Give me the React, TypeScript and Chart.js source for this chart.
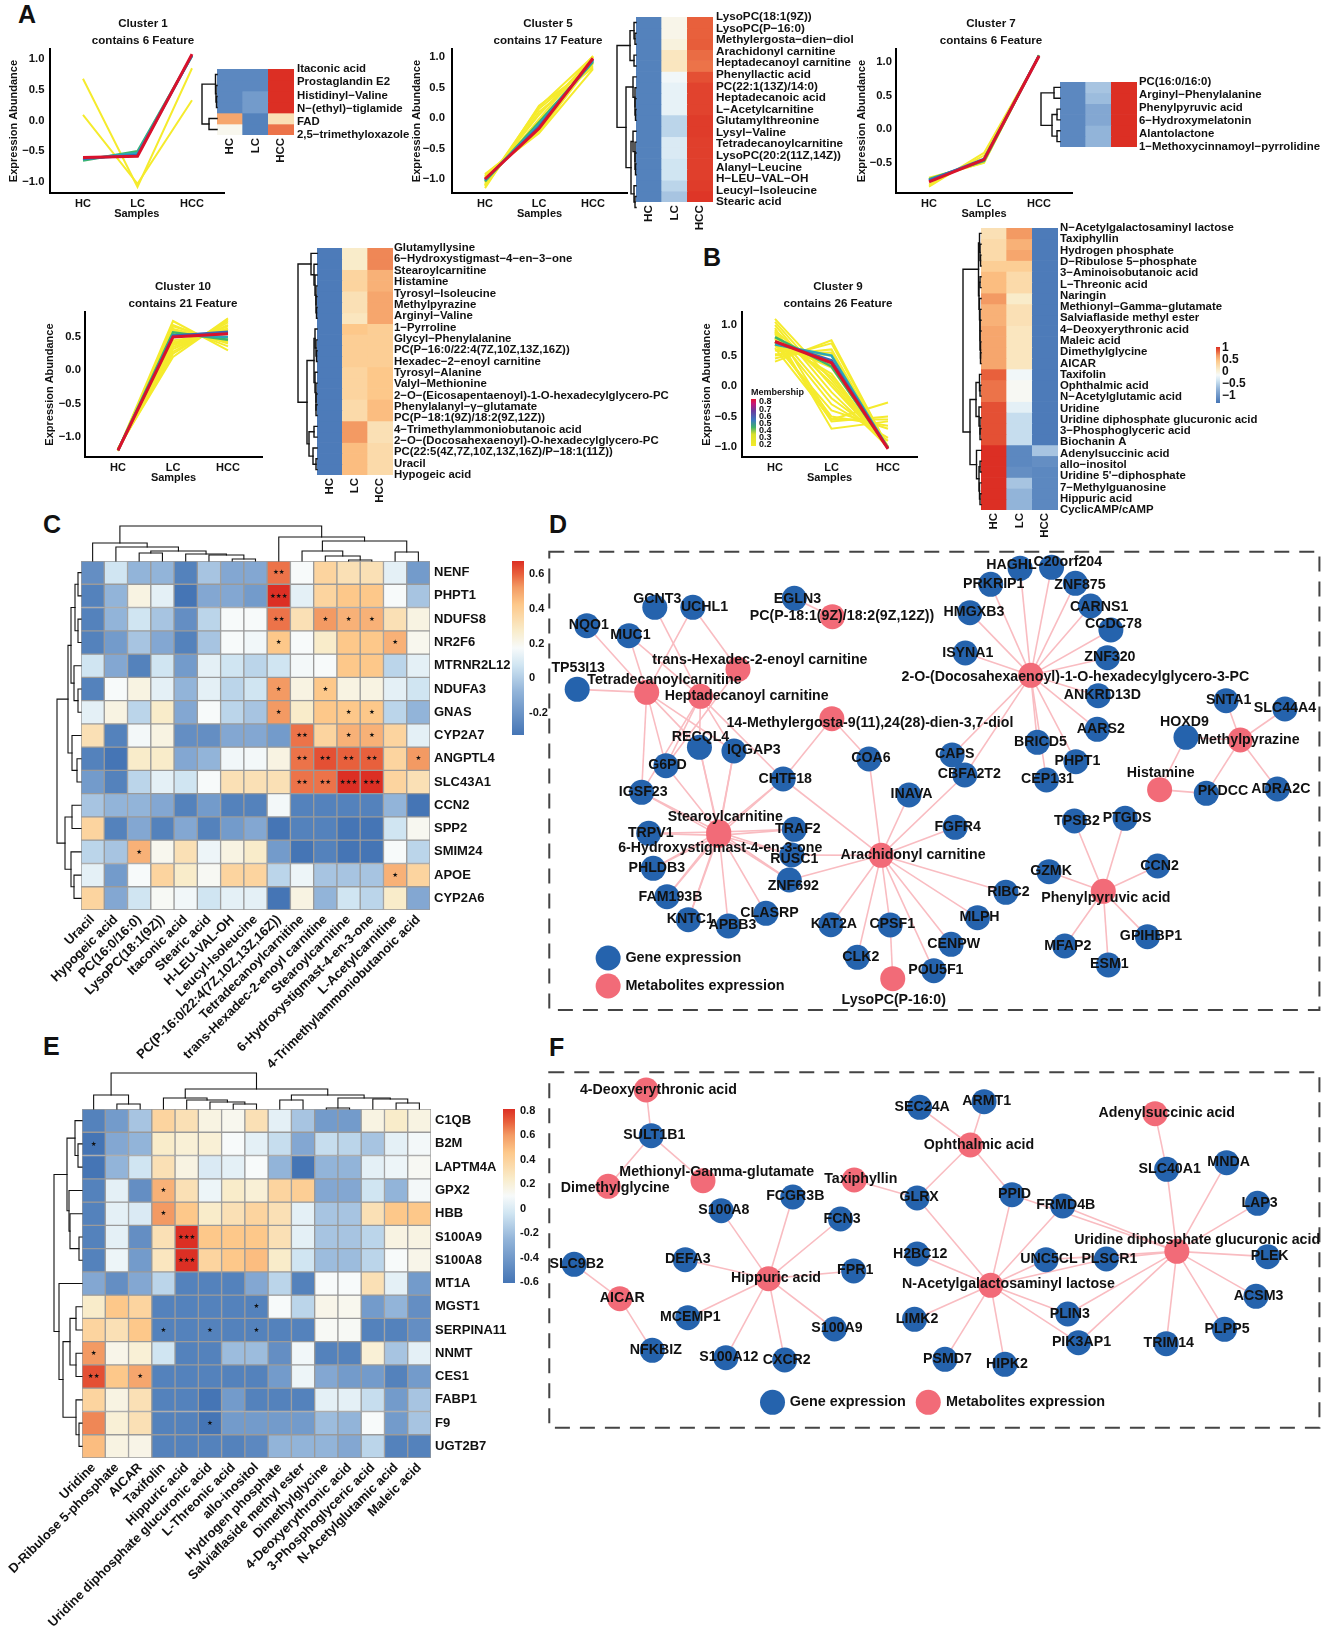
import React, { useEffect, useRef } from "react";
import { Chart, registerables } from "chart.js";
Chart.register(...registerables);

const FONT = '"Liberation Sans", Arial, sans-serif';
const samples = ["HC", "LC", "HCC"];

// ---------- profile line data: [HC, LC, HCC] ----------
const cluster1Yellow = [[0.68, -1.08, 0.85], [0.09, -1.03, 0.33]];
const cluster1Colored = [[-0.65, -0.5, 1.05], [-0.63, -0.53, 1.06], [-0.62, -0.56, 1.06], [-0.6, -0.58, 1.08]];
const cluster5Yellow = [[-0.93, -0.25, 0.8], [-1.15, 0.2, 0.85], [-1.1, 0.15, 0.88], [-1.12, 0.1, 0.83], [-1.05, 0.05, 1.0], [-0.98, -0.08, 0.9], [-1.08, -0.02, 1.02], [-0.95, -0.2, 0.96], [-0.98, -0.18, 1.0], [-0.92, -0.23, 0.93], [-1.06, -0.05, 0.9], [-0.96, -0.22, 1.0], [-1.1, 0.18, 1.01]];
const cluster5Colored = [[-1.04, -0.07, 0.92], [-1.02, -0.11, 0.94], [-1.01, -0.14, 0.96], [-1.0, -0.17, 0.98]];
const cluster7Yellow = [[-0.85, -0.35, 1.08], [-0.72, -0.5, 1.1], [-0.82, -0.39, 1.09], [-0.74, -0.49, 1.1]];
const cluster7Colored = [[-0.74, -0.47, 1.1], [-0.75, -0.46, 1.09], [-0.76, -0.44, 1.09], [-0.78, -0.45, 1.09]];
const cluster10Yellow = [[-1.2, 0.74, 0.3], [-1.2, 0.68, 0.36], [-1.21, 0.66, 0.4], [-1.2, 0.62, 0.42], [-1.19, 0.6, 0.44], [-1.2, 0.58, 0.46], [-1.2, 0.56, 0.47], [-1.2, 0.54, 0.5], [-1.18, 0.45, 0.56], [-1.2, 0.42, 0.6], [-1.19, 0.4, 0.62], [-1.2, 0.38, 0.63], [-1.19, 0.35, 0.66], [-1.18, 0.32, 0.68], [-1.18, 0.28, 0.72], [-1.17, 0.2, 0.78], [-1.18, 0.25, 0.75]];
const cluster10Colored = [[-1.2, 0.57, 0.46], [-1.2, 0.53, 0.5], [-1.2, 0.52, 0.58], [-1.2, 0.5, 0.55]];
const cluster9Yellow = [[1.1, 0.1, -1], [1.05, 0, -1], [1.0, -0.1, -1], [0.95, -0.55, -0.55], [0.92, 0.05, -1.02], [0.9, -0.2, -0.9], [0.88, -0.7, -0.58], [0.85, -0.3, -0.85], [0.8, 0.15, -1], [0.78, -0.58, -0.5], [0.75, 0.2, -1.02], [0.72, -0.5, -0.65], [0.7, 0.3, -1], [0.68, -0.4, -0.7], [0.65, 0.35, -1], [0.6, 0.42, -1], [0.58, 0.5, -1], [0.52, 0.55, -1], [0.5, 0.6, -1.02], [0.45, 0.7, -1], [0.4, 0.75, -1], [0.62, -0.55, -0.27]];
const cluster9Colored = [[0.8, 0.32, -1.02], [0.68, 0.5, -1.02], [0.72, 0.42, -1.02], [0.73, 0.38, -1.03]];

// ---------- side heatmaps of panels A and B (tenths of the colour range) ----------
const heatCols = ["HC", "LC", "HCC"];
const rows1 = ["Itaconic acid", "Prostaglandin E2", "Histidinyl−Valine", "N−(ethyl)−tiglamide", "FAD", "2,5−trimethyloxazole"];
const heat1 = [[-8.5, -8.5, 10], [-8.5, -8.5, 10], [-8.5, -7, 10], [-8.5, -7, 10], [6.5, -9, 3], [0.5, -9, 8]];
const rows5 = ["LysoPC(18:1(9Z))", "LysoPC(P−16:0)", "Methylergosta−dien−diol", "Arachidonyl carnitine", "Heptadecanoyl carnitine", "Phenyllactic acid", "PC(22:1(13Z)/14:0)", "Heptadecanoic acid", "L−Acetylcarnitine", "Glutamylthreonine", "Lysyl−Valine", "Tetradecanoylcarnitine", "LysoPC(20:2(11Z,14Z))", "Alanyl−Leucine", "H−LEU−VAL−OH", "Leucyl−Isoleucine", "Stearic acid"];
const heat5 = [[-9, 0.7, 8.5], [-9, 0.7, 8.5], [-9, 1.2, 8.6], [-9, 2.5, 8.2], [-9, 2.5, 8], [-9, -0.3, 9], [-9, -0.8, 9.4], [-9, -0.8, 9.4], [-9, -0.8, 9.4], [-9, -3, 9.6], [-9, -3, 9.6], [-9, -1.5, 9.5], [-9, -1.5, 9.5], [-9, -2, 9.5], [-9, -2, 9.5], [-9, -3, 9.6], [-9, -4, 9.8]];
const rows7 = ["PC(16:0/16:0)", "Arginyl−Phenylalanine", "Phenylpyruvic acid", "6−Hydroxymelatonin", "Alantolactone", "1−Methoxycinnamoyl−pyrrolidine"];
const heat7 = [[-8.5, -4, 10], [-8.5, -4.5, 10], [-8.5, -6, 10], [-8.5, -6, 10], [-8.5, -5, 10], [-8.5, -5, 10]];
const rows10 = ["Glutamyllysine", "6−Hydroxystigmast−4−en−3−one", "Stearoylcarnitine", "Histamine", "Tyrosyl−Isoleucine", "Methylpyrazine", "Arginyl−Valine", "1−Pyrroline", "Glycyl−Phenylalanine", "PC(P−16:0/22:4(7Z,10Z,13Z,16Z))", "Hexadec−2−enoyl carnitine", "Tyrosyl−Alanine", "Valyl−Methionine", "2−O−(Eicosapentaenoyl)-1-O-hexadecylglycero-PC", "Phenylalanyl−γ−glutamate", "PC(P−18:1(9Z)/18:2(9Z,12Z))", "4−Trimethylammoniobutanoic acid", "2−O−(Docosahexaenoyl)-O-hexadecylglycero-PC", "PC(22:5(4Z,7Z,10Z,13Z,16Z)/P−18:1(11Z))", "Uracil", "Hypogeic acid"];
const heat10 = [[-9.5, 2, 7.5], [-9.5, 2, 7.5], [-9.5, 4, 6], [-9.5, 4, 6], [-9.5, 3, 6.5], [-9.5, 3, 6.5], [-9.5, 2.5, 6.5], [-9.5, 5, 4.5], [-9.5, 4.5, 4.5], [-9.5, 4.5, 4.5], [-9.5, 4.5, 4.5], [-9.5, 4, 5], [-9.5, 4, 5], [-9.5, 4, 5], [-9.5, 3.5, 5.5], [-9.5, 3.5, 5.5], [-9.5, 7, 3], [-9.5, 7, 3], [-9.5, 5.5, 3.5], [-9.5, 5.5, 3.5], [-9.5, 5.5, 3.5]];
const rows9 = ["N−Acetylgalactosaminyl lactose", "Taxiphyllin", "Hydrogen phosphate", "D−Ribulose 5−phosphate", "3−Aminoisobutanoic acid", "L−Threonic acid", "Naringin", "Methionyl−Gamma−glutamate", "Salviaflaside methyl ester", "4−Deoxyerythronic acid", "Maleic acid", "Dimethylglycine", "AICAR", "Taxifolin", "Ophthalmic acid", "N−Acetylglutamic acid", "Uridine", "Uridine diphosphate glucuronic acid", "3−Phosphoglyceric acid", "Biochanin A", "Adenylsuccinic acid", "allo−inositol", "Uridine 5'−diphosphate", "7−Methylguanosine", "Hippuric acid", "CyclicAMP/cAMP"];
const heat9 = [[3, 7, -9.5], [3.5, 6, -9.5], [3.5, 6.5, -9.5], [4.5, 4.5, -9.5], [5.5, 3.5, -9.5], [5.5, 3.5, -9.5], [7, 2, -9.5], [6, 3, -9.5], [6, 3, -9.5], [6.5, 2.5, -9.5], [6.5, 2.5, -9.5], [6.5, 2.5, -9.5], [6.5, 2.5, -9.5], [8.5, -0.3, -9.5], [8, 0.3, -9.5], [8, 0.3, -9.5], [9, -1, -9.5], [9, -2.5, -9.5], [9, -2.5, -9.5], [9, -2.5, -9.5], [10, -8.5, -4], [10, -8.5, -8], [10, -8, -8.5], [10, -4, -8.5], [10, -5, -8.5], [10, -5, -8.5]];

const tree1: any = [15, [1.5, 0, [1, 0, [0.5, 0, 0]]], [8, 0, 0]];
const tree5: any = [19, [6, [2, 0, [1, 0, 0]], [2, 0, 0]], [10, [3, 0, [1, 0, [1, 0, [0.5, 0, 0]]]], [5, [3, 0, [1, 0, [1, 0, [0.5, 0, 0]]]], [2, 0, [1, 0, 0]]]]];
const tree7: any = [19, [6, 0, 0], [8, [3, 0, 0], [3, 0, 0]]];
const tree10: any = [19, [6, 0, [3, 0, [2, 0, [1, 0, [1, 0, [0.5, 0, 0]]]]]], [10, [3, [2, 0, [1, 0, [0.5, 0, 0]]], [2, 0, [1, 0, [1, 0, [1, 0, 0]]]]], [8, [3, 0, 0], [4, 0, [1, 0, 0]]]]];
const tree9: any = [18, [2.5, [1.5, 0, [1, 0, [0.5, 0, 0]]], [2, [1, 0, 0], [1.5, 0, [1, 0, [1, 0, [1, 0, [0.5, 0, [0.5, 0, 0]]]]]]]], [11, [5, [1.5, 0, [1, 0, 0]], [2, 0, [1, 0, [1, 0, 0]]]], [4.5, 0, [2, [1, 0, 0], [1.5, 0, [1, 0, 0]]]]]];

// ---------- panel C ----------
const rowsC = ["NENF", "PHPT1", "NDUFS8", "NR2F6", "MTRNR2L12", "NDUFA3", "GNAS", "CYP2A7", "ANGPTL4", "SLC43A1", "CCN2", "SPP2", "SMIM24", "APOE", "CYP2A6"];
const colsC = ["Uracil", "Hypogeic acid", "PC(16:0/16:0)", "LysoPC(18:1(9Z))", "Itaconic acid", "Stearic acid", "H-LEU-VAL-OH", "Leucyl-Isoleucine", "PC(P-16:0/22:4(7Z,10Z,13Z,16Z))", "Tetradecanoylcarnitine", "trans-Hexadec-2-enoyl carnitine", "Stearoylcarnitine", "6-Hydroxystigmast-4-en-3-one", "L-Acetylcarnitine", "4-Trimethylammoniobutanoic acid"];
const valuesC = [
  [-8, -2, -5, -5, -9, -4, -6, -6, 8, 0, 4, 3, 3, -1, -7],
  [-9, -5, 1, -1, -10, -6, -6, -7, 10, -1, 4, 5, 5, 0, -4],
  [-9, -5, -2, -4, -8, -3, 0, 0, 8, 3, 7, 6, 6, 3, 1],
  [-9, -7, -4, -6, -9, -4, 0, -0.3, 5, 0, 2, 5, 5, 6, 0.5],
  [-2, -6, -9, -2, -7, -1, -2, -3, -2, -0.2, 0, 5, 5, -3, -1],
  [-9, 0, 1, -1, -5, -1, -3, -2, 7, 1, 5, 1, 1, -1, -2],
  [-1, 1, -3, 2, -6, 0, -3, -4, 7, 2, 5, 5, 5, -3, -5],
  [3, -9, -0.2, 1, -8, -8, -6, -6, -7, 8, 4, 6, 6, 4, -1],
  [-9, -10, 2, 2, -6, -5, -0.3, -0.2, 1, 8, 9, 8.5, 8.5, 4, 7],
  [-7, -9, -3, -1, -2, 0, 3, 3, 3, 8, 8, 10, 10, 4, 3],
  [-4, -5, -5, -6, -9, -7, -9, -9, -0.2, -9, -9, -9, -9, -5, -10],
  [4, -9, -6, -9, -6, -9, -7, -6, -10, -9, -9, -10, -10, -2, 0.4],
  [-3, -4, 6, 0.5, 3, -0.5, 1, 2, -7, -10, -9, -10, -10, 0, -3],
  [-1, -7, 0, 4, 2, 0.3, 4, 4, -3, -0.5, -4, -4, -4, 6, 4],
  [4, -6, -2, 0.2, -0.3, -2, -1, -1, -10, 1, -5, -2, -3, 2, -6],
];
// [row, column, number of stars]
const starsC = [[0, 8, 2], [1, 8, 3], [2, 8, 2], [2, 10, 1], [2, 11, 1], [2, 12, 1], [3, 8, 1], [3, 13, 1], [5, 8, 1], [5, 10, 1], [6, 8, 1], [6, 11, 1], [6, 12, 1], [7, 9, 2], [7, 11, 1], [7, 12, 1], [8, 9, 2], [8, 10, 2], [8, 11, 2], [8, 12, 2], [8, 14, 1], [9, 9, 2], [9, 10, 2], [9, 11, 3], [9, 12, 3], [12, 2, 1], [13, 13, 1]];
const rowTreeC: any = [24, [13, [10, [6, [3, 0, 0], [3, 0, 0]], [7, 0, [3, 0, 0]]], [9, 0, [4, 0, 0]]], [16, [9, 0, 0], [10, 0, [7, 0, 0]]]];
const colTreeC: any = [35, [18, 0, [14, 0, [10, [8, 0, 0], [7, 0, [6, 0, [2, 0, 0]]]]]], [24, 0, [20, [10, 0, [5, 0, [1, 0, 0]]], [9, 0, 0]]]];

// ---------- panel E ----------
const rowsE = ["C1QB", "B2M", "LAPTM4A", "GPX2", "HBB", "S100A9", "S100A8", "MT1A", "MGST1", "SERPINA11", "NNMT", "CES1", "FABP1", "F9", "UGT2B7"];
const colsE = ["Uridine", "D-Ribulose 5-phosphate", "AICAR", "Taxifolin", "Hippuric acid", "Uridine diphosphate glucuronic acid", "L-Threonic acid", "allo-inositol", "Hydrogen phosphate", "Salviaflaside methyl ester", "Dimethylglycine", "4-Deoxyerythronic acid", "3-Phosphoglyceric acid", "N-Acetylglutamic acid", "Maleic acid"];
const valuesE = [
  [-9, -7, -4, 4, 3, 1, 0.5, 3, -1, -4, -7, -7, 1, 2, 1],
  [-10, -6, -5, 2, 1.5, 1.5, 0, -1, -2.5, -6, -2.5, -3, -4, -1, -0.2],
  [-10, -5, -2, 3, 1, -1.5, -1, 0, -5, -10, -5, -5, -1, -0.5, 0.3],
  [-9, -1, -8, 6, 3, -0.5, 2, 1.5, 4, 4.5, -6, -6, -2, -5, -0.2],
  [-9, -1, -1.5, 7, 5, 2, 3, 4, 3, -1, -4, -4, 3, 5, 5],
  [-9, -1, -8, 3, 10, 5, 5, 5, 3, -1, -4, -4, -3, 1, 1],
  [-9, -0.5, -7, 2.5, 10, 4, 5, 5.5, 2, -2, -4.5, -4.5, -3, 0, 0.7],
  [-6, -8, -6, -3, -9, -9, -9, -6, -3, -9, 0, 0, 3, -1, -7],
  [2, 5, 4, -9, -9, -9, -9, -9, 0, -3, 0.7, 0.5, -7, -5, -8],
  [4, 3, 5, -9, -9, -9, -9, -9, -9, -9, 0.2, 0.2, -9, -9, -8],
  [7, 0.7, 1.5, -2, -9, -9, -4.5, -4.5, -8, -0.3, -9, -9, 1.5, -4, -1],
  [9, 5, 6.5, -9, -9, -9, -9, -9, -7, -0.5, -6, -7, -7, -9, -7],
  [4, 1, 3, -9, -9, -10, -7, -9, -9, -9, -1, -1, -2.5, -7, -4],
  [7.5, 1.5, 3, -9, -9, -10, -7, -7, -7, -7, -4.5, -5, 0, -7, -4],
  [5.5, 1, 0.8, -9, -9, -9, -9, -8.5, -5, -5, -5, -6, -3, -9, -9],
];
const starsE = [[1, 0, 1], [3, 3, 1], [4, 3, 1], [5, 4, 3], [6, 4, 3], [8, 7, 1], [9, 3, 1], [9, 5, 1], [9, 7, 1], [10, 0, 1], [11, 0, 2], [11, 2, 1], [13, 5, 1]];
const rowTreeE: any = [28, [15, [7, 0, [4, 0, 0]], [13, 0, [12, 0, [3, 0, 0]]]], [23, 0, [19, [12, [6, 0, 0], [6, 0, 0]], [6, 0, [3, 0, 0]]]]];
const colTreeE: any = [36, [14, 0, [5, 0, 0]], [20, [11, 0, [9, 0, [7, 0, [5, 0, 0]]]], [14, [9, 0, 0], [11, [1, 0, 0], [10, 0, [6, 0, 0]]]]]];

// ---------- networks: [name, node x, node y, label x, label y] in layout units ----------
const genesD: any[] = [["GCNT3", 246, 232, 251, 207], ["UCHL1", 321, 232, 344, 232], ["NQO1", 112, 287, 116, 286], ["MUC1", 195, 317, 198, 316], ["TP53I13", 93, 478, 95, 414], ["EGLN3", 521, 205, 527, 206], ["HAGHL", 966, 115, 949, 106], ["C20orf204", 1028, 112, 1060, 97], ["PRKRIP1", 908, 163, 914, 162], ["ZNF875", 1075, 160, 1084, 165], ["HMGXB3", 867, 248, 875, 247], ["CARNS1", 1105, 228, 1122, 232], ["CCDC78", 1145, 300, 1150, 283], ["ZNF320", 1138, 383, 1143, 381], ["ISYNA1", 858, 369, 863, 368], ["ANKRD13D", 1120, 497, 1128, 495], ["SNTA1", 1372, 512, 1377, 511], ["SLC44A4", 1488, 537, 1488, 535], ["HOXD9", 1293, 622, 1290, 577], ["AARS2", 1118, 598, 1125, 597], ["BRICD5", 1000, 637, 1006, 635], ["PHPT1", 1076, 695, 1079, 694], ["CEP131", 1018, 750, 1020, 748], ["CAPS", 832, 675, 837, 672], ["CBFA2T2", 857, 735, 866, 732], ["COA6", 668, 687, 672, 685], ["RECQL4", 334, 652, 336, 622], ["IQGAP3", 402, 663, 441, 660], ["G6PD", 268, 707, 271, 704], ["IGSF23", 220, 787, 223, 785], ["CHTF18", 499, 747, 503, 746], ["INAVA", 747, 795, 752, 793], ["FGFR4", 838, 892, 843, 891], ["TPSB2", 1073, 873, 1078, 873], ["PTGDS", 1173, 865, 1177, 863], ["PKDCC", 1333, 790, 1366, 782], ["ADRA2C", 1473, 777, 1480, 777], ["CCN2", 1237, 1008, 1241, 1007], ["GZMK", 1023, 1025, 1027, 1023], ["RIBC2", 938, 1087, 943, 1085], ["GPIHBP1", 1217, 1220, 1224, 1219], ["MFAP2", 1054, 1248, 1060, 1247], ["ESM1", 1140, 1305, 1142, 1303], ["MLPH", 882, 1163, 886, 1162], ["CENPW", 830, 1243, 835, 1242], ["POU5F1", 796, 1322, 800, 1321], ["CPSF1", 710, 1185, 714, 1183], ["CLK2", 645, 1282, 652, 1281], ["KAT2A", 593, 1184, 599, 1182], ["TRAF2", 521, 898, 528, 897], ["TRPV1", 234, 910, 238, 910], ["RUSC1", 516, 975, 521, 988], ["ZNF692", 511, 1050, 519, 1067], ["PHLDB3", 243, 1015, 250, 1014], ["FAM193B", 270, 1100, 277, 1100], ["KNTC1", 312, 1169, 316, 1167], ["APBB3", 391, 1188, 399, 1186], ["CLASRP", 465, 1150, 472, 1148]];
const metabolitesD: any[] = [["PC(P-18:1(9Z)/18:2(9Z,12Z))", 596, 260, 615, 259], ["trans-Hexadec-2-enoyl carnitine", 410, 418, 453, 389], ["Tetradecanoylcarnitine", 230, 487, 265, 450], ["Heptadecanoyl carnitine", 336, 499, 427, 499], ["14-Methylergosta-9(11),24(28)-dien-3,7-diol", 595, 566, 670, 578], ["2-O-(Docosahexaenoyl)-1-O-hexadecylglycero-3-PC", 987, 436, 1075, 441], ["Methylpyrazine", 1400, 630, 1416, 630], ["Histamine", 1241, 779, 1243, 728], ["Stearoylcarnitine", 372, 906, 385, 862], ["6-Hydroxystigmast-4-en-3-one", 372, 916, 375, 955], ["Arachidonyl carnitine", 692, 976, 755, 974], ["Phenylpyruvic acid", 1130, 1084, 1135, 1103], ["LysoPC(P-16:0)", 715, 1346, 717, 1410]];
const edgesD: any[] = [
  ["Tetradecanoylcarnitine", ["NQO1", "MUC1", "UCHL1", "TP53I13", "IGSF23", "G6PD", "RECQL4", "IQGAP3"]],
  ["Heptadecanoyl carnitine", ["GCNT3", "MUC1", "G6PD", "RECQL4", "IQGAP3", "CHTF18", "IGSF23"]],
  ["trans-Hexadec-2-enoyl carnitine", ["G6PD", "UCHL1"]],
  ["PC(P-18:1(9Z)/18:2(9Z,12Z))", ["EGLN3"]],
  ["14-Methylergosta-9(11),24(28)-dien-3,7-diol", ["CHTF18", "COA6"]],
  ["Stearoylcarnitine", ["RECQL4", "IQGAP3", "G6PD", "IGSF23", "CHTF18", "TRAF2", "TRPV1", "RUSC1", "ZNF692", "PHLDB3", "FAM193B", "KNTC1", "APBB3", "CLASRP"]],
  ["6-Hydroxystigmast-4-en-3-one", ["RECQL4", "IQGAP3", "IGSF23", "CHTF18", "TRAF2", "TRPV1", "RUSC1", "ZNF692", "PHLDB3", "FAM193B", "KNTC1"]],
  ["Arachidonyl carnitine", ["CHTF18", "COA6", "INAVA", "CBFA2T2", "FGFR4", "RUSC1", "ZNF692", "RIBC2", "MLPH", "CENPW", "POU5F1", "CPSF1", "CLK2", "KAT2A"]],
  ["LysoPC(P-16:0)", ["CPSF1"]],
  ["2-O-(Docosahexaenoyl)-1-O-hexadecylglycero-3-PC", ["HAGHL", "C20orf204", "PRKRIP1", "ZNF875", "HMGXB3", "CARNS1", "CCDC78", "ZNF320", "ISYNA1", "ANKRD13D", "AARS2", "BRICD5", "PHPT1", "CEP131", "CAPS", "CBFA2T2"]],
  ["Methylpyrazine", ["SNTA1", "SLC44A4", "HOXD9", "ADRA2C", "PKDCC"]],
  ["Histamine", ["HOXD9", "PKDCC"]],
  ["Phenylpyruvic acid", ["TPSB2", "PTGDS", "CCN2", "GZMK", "GPIHBP1", "MFAP2", "ESM1"]],
];
const legendD: any[] = [["Gene expression", 154, 1284, 188, 1283], ["Metabolites expression", 154, 1368, 188, 1367]];

const genesF: any[] = [["SULT1B1", 239, 257, 245, 256], ["SLC9B2", 87, 643, 92, 642], ["NFKBIZ", 241, 901, 248, 900], ["S100A8", 377, 482, 382, 481], ["FCGR3B", 518, 441, 523, 439], ["FCN3", 612, 507, 615, 506], ["DEFA3", 306, 629, 311, 627], ["FPR1", 638, 663, 641, 661], ["MCEMP1", 311, 803, 316, 802], ["S100A9", 600, 837, 605, 835], ["S100A12", 386, 923, 392, 922], ["CXCR2", 502, 930, 506, 929], ["SEC24A", 768, 172, 773, 171], ["ARMT1", 895, 155, 900, 153], ["GLRX", 763, 444, 767, 442], ["PPID", 950, 434, 955, 433], ["FRMD4B", 1050, 468, 1056, 465], ["H2BC12", 763, 612, 769, 611], ["UNC5CL", 1017, 629, 1023, 627], ["PLSCR1", 1136, 627, 1142, 626], ["LIMK2", 758, 808, 763, 807], ["PLIN3", 1060, 792, 1064, 791], ["PIK3AP1", 1081, 878, 1087, 877], ["PSMD7", 818, 928, 823, 926], ["HIPK2", 936, 943, 940, 941], ["SLC40A1", 1255, 358, 1261, 357], ["MNDA", 1373, 338, 1377, 337], ["LAP3", 1434, 460, 1438, 459], ["PLEK", 1454, 620, 1458, 618], ["ACSM3", 1431, 739, 1436, 738], ["PLPP5", 1369, 838, 1374, 836], ["TRIM14", 1254, 881, 1259, 880]];
const metabolitesF: any[] = [["4-Deoxyerythronic acid", 229, 120, 253, 119], ["Dimethylglycine", 154, 409, 168, 414], ["Methionyl-Gamma-glutamate", 341, 392, 368, 365], ["AICAR", 177, 746, 182, 745], ["Hippuric acid", 470, 686, 485, 684], ["Taxiphyllin", 639, 390, 652, 388], ["Ophthalmic acid", 868, 285, 885, 284], ["N-Acetylgalactosaminyl lactose", 908, 706, 943, 703], ["Adenylsuccinic acid", 1232, 191, 1255, 190], ["Uridine diphosphate glucuronic acid", 1275, 604, 1315, 569]];
const edgesF: any[] = [
  ["4-Deoxyerythronic acid", ["SULT1B1"]],
  ["Dimethylglycine", ["SULT1B1"]],
  ["Methionyl-Gamma-glutamate", ["SULT1B1"]],
  ["AICAR", ["SLC9B2", "NFKBIZ"]],
  ["Hippuric acid", ["S100A8", "FCGR3B", "FCN3", "DEFA3", "FPR1", "MCEMP1", "S100A9", "S100A12", "CXCR2"]],
  ["Taxiphyllin", ["GLRX"]],
  ["Ophthalmic acid", ["SEC24A", "ARMT1", "GLRX", "PPID"]],
  ["N-Acetylgalactosaminyl lactose", ["GLRX", "PPID", "FRMD4B", "H2BC12", "UNC5CL", "PLSCR1", "LIMK2", "PLIN3", "PIK3AP1", "PSMD7", "HIPK2"]],
  ["Adenylsuccinic acid", ["SLC40A1"]],
  ["Uridine diphosphate glucuronic acid", ["SLC40A1", "MNDA", "LAP3", "PLEK", "ACSM3", "PLPP5", "TRIM14", "FRMD4B", "PPID", "UNC5CL", "PLSCR1", "PLIN3", "PIK3AP1"]],
];
const legendF: any[] = [["Gene expression", 478, 1057, 512, 1056], ["Metabolites expression", 785, 1057, 820, 1056]];

// ---------- colours ----------
const paletteStops: [number, string][] = [[-10, "#4575b5"], [-5, "#92b4d9"], [-2, "#d0e5f2"], [0, "#f7fafa"], [2, "#f9ecca"], [5, "#fdc88a"], [7, "#f39a63"], [8.5, "#e8603c"], [10, "#dc2f24"]];
const membershipStops: [number, string][] = [[-10, "#f5ea2a"], [-5, "#d8e02e"], [-2, "#3fb06a"], [1, "#3a78c0"], [5, "#6a3a9c"], [8, "#c4187a"], [10, "#e6102e"]];
const GENE = "#2563ad";
const META = "#f26b78";
const EDGE = "#f9bcc1";
const lineColors = ["#3db56a", "#2aa7b8", "#3a66b4", "#d9122c"];
const YELLOW = "#f5eb2d";

function hex(c: string) { return [1, 3, 5].map((i) => parseInt(c.slice(i, i + 2), 16)); }
function cellColor(v: number) {
  const s = paletteStops;
  for (let i = 1; i < s.length; i++) {
    if (v <= s[i][0]) {
      const t = (v - s[i - 1][0]) / (s[i][0] - s[i - 1][0]);
      const a = hex(s[i - 1][1]), b = hex(s[i][1]);
      return `rgb(${a.map((x, k) => Math.round(x + (b[k] - x) * t)).join(",")})`;
    }
  }
  return s[s.length - 1][1];
}
const bold = (size: number) => ({ family: FONT, size, weight: "bold" as const });

// ---------- generic canvas ----------
function Plot({ left, top, width, height, make }: any) {
  const ref = useRef<HTMLCanvasElement>(null);
  useEffect(() => {
    const chart = new Chart(ref.current as HTMLCanvasElement, make());
    return () => chart.destroy();
  }, []);
  return <canvas ref={ref} width={width} height={height} style={{ position: "absolute", left, top, width, height, display: "block" }} />;
}
const baseOptions = { responsive: false, animation: false as const, devicePixelRatio: 1, events: [] as string[] };

// ---------- profile charts ----------
function ProfilePlot(p: any) {
  const top = p.plotTop - 33;
  const titleH = 34.1;
  const areaTop = top + titleH;
  const bottomH = 28;
  const height = p.plotBottom + bottomH - top;
  const pxPerUnit = (p.tickB[1] - p.tickA[1]) / (p.tickA[0] - p.tickB[0]);
  const yMax = p.tickA[0] + (p.tickA[1] - areaTop) / pxPerUnit;
  const yMin = p.tickB[0] - (p.plotBottom - p.tickB[1]) / pxPerUnit;
  const unit = (p.hcc - p.hc) / 2;
  const xMin = -(p.hc - p.plotLeft) / unit;
  const xMax = 2 + (p.plotRight - p.hcc) / unit;
  const toPts = (r: number[]) => r.map((y, x) => ({ x, y }));
  const make = () => {
    const coloured = p.colored.map((r: number[], i: number) => ({ data: toPts(r), borderColor: lineColors[i], borderWidth: i === 3 ? 3 : 2.5 }));
    const yellow = p.yellow.map((r: number[]) => ({ data: toPts(r), borderColor: YELLOW, borderWidth: 2 }));
    return {
      type: "line",
      data: { datasets: [...coloured.reverse(), ...yellow].map((d: any) => ({ ...d, pointRadius: 0, tension: 0, fill: false })) },
      options: {
        ...baseOptions,
        layout: { padding: 0, autoPadding: false },
        plugins: {
          legend: { display: false }, tooltip: { enabled: false },
          title: { display: true, text: p.title, color: "#111", font: { ...bold(11.6), lineHeight: 1.47 }, padding: 0 },
        },
        scales: {
          x: {
            type: "linear", min: xMin, max: xMax,
            grid: { display: false, drawTicks: false }, border: { color: "#000", width: 2 },
            ticks: { stepSize: 1, includeBounds: false, color: "#111", font: bold(11), padding: 4, maxRotation: 0, autoSkip: false, callback: (v: number) => samples[v] ?? "" },
            title: { display: true, text: "Samples", color: "#111", font: bold(11), padding: 0 },
            afterFit: (s: any) => { s.height = bottomH; s.paddingLeft = 0; s.paddingRight = 0; },
          },
          y: {
            type: "linear", min: yMin, max: yMax,
            grid: { display: false, drawTicks: false }, border: { color: "#000", width: 2 },
            ticks: { stepSize: 0.5, includeBounds: false, color: "#111", font: bold(11.3), padding: p.tickPad, autoSkip: false, callback: (v: number) => v.toFixed(1).replace("-", "−") },
            title: { display: true, text: "Expression Abundance", color: "#111", font: bold(11), padding: 0 },
            afterFit: (s: any) => { s.width = p.plotLeft - p.left; s.paddingTop = 0; s.paddingBottom = 0; },
          },
          // empty axis that keeps the right margin inside the full-width title box
          spacer: {
            type: "linear", axis: "y", position: "right",
            grid: { display: false, drawTicks: false }, border: { display: false }, ticks: { display: false },
            afterFit: (s: any) => { s.width = p.right - p.plotRight; s.paddingTop = 0; s.paddingBottom = 0; },
          },
        },
      },
    };
  };
  return <Plot left={p.left} top={top} width={p.right - p.left} height={height} make={make} />;
}

// ---------- dendrograms ----------
function walkTree(tree: any, leafPos: (i: number) => number, seg: (p1: number, h1: number, p2: number, h2: number, h: number) => void) {
  let leaf = 0;
  const rec = (t: any): { pos: number; h: number } => {
    if (t === 0) return { pos: leafPos(leaf++), h: 0 };
    const a = rec(t[1]);
    const b = rec(t[2]);
    seg(a.pos, a.h, b.pos, b.h, t[0]);
    return { pos: (a.pos + b.pos) / 2, h: t[0] };
  };
  rec(tree);
}
const dendroPlugin = (rowTree: any, colTree: any, width: number) => ({
  id: "dendro",
  afterDatasetsDraw(chart: any) {
    const { ctx, chartArea: a, scales } = chart;
    ctx.save();
    ctx.strokeStyle = "#111";
    ctx.lineWidth = width;
    ctx.lineCap = "square";
    if (rowTree) walkTree(rowTree, (i) => scales.y.getPixelForValue(i + 0.5), (p1, h1, p2, h2, h) => {
      ctx.beginPath();
      ctx.moveTo(a.left - h1, p1); ctx.lineTo(a.left - h, p1); ctx.lineTo(a.left - h, p2); ctx.lineTo(a.left - h2, p2);
      ctx.stroke();
    });
    if (colTree) walkTree(colTree, (i) => scales.x.getPixelForValue(i), (p1, h1, p2, h2, h) => {
      ctx.beginPath();
      ctx.moveTo(p1, a.top - h1); ctx.lineTo(p1, a.top - h); ctx.lineTo(p2, a.top - h); ctx.lineTo(p2, a.top - h2);
      ctx.stroke();
    });
    ctx.restore();
  },
});
const starPlugin = (stars: number[][]) => ({
  id: "stars",
  afterDatasetsDraw(chart: any) {
    const { ctx, scales } = chart;
    ctx.save();
    ctx.fillStyle = "#111";
    ctx.font = '6.5px "DejaVu Sans"';
    ctx.textAlign = "center";
    ctx.textBaseline = "middle";
    stars.forEach(([r, c, n]) => ctx.fillText("★".repeat(n), scales.x.getPixelForValue(c), scales.y.getPixelForValue(r + 0.5)));
    ctx.restore();
  },
});

// ---------- heatmap, a stacked bar chart with one dataset per row ----------
function HeatPlot(p: any) {
  const n = p.values.length;
  const make = () => ({
    type: "bar",
    data: {
      labels: p.cols,
      datasets: p.values.map((row: number[], i: number) => ({
        label: p.rows[i],
        data: row.map(() => 1),
        backgroundColor: row.map(cellColor),
        borderColor: p.grid ? "#9a9a9a" : undefined,
        borderWidth: p.grid ? 1 : 0,
        borderSkipped: false,
        barPercentage: 1,
        categoryPercentage: 1,
      })),
    },
    options: {
      ...baseOptions,
      layout: { padding: { left: p.padL, top: p.padT, right: 0, bottom: 0 } },
      plugins: { legend: { display: false }, tooltip: { enabled: false } },
      scales: {
        x: {
          type: "category", stacked: true, offset: true,
          grid: { display: false, drawTicks: false }, border: { display: false },
          ticks: { autoSkip: false, minRotation: p.rotate, maxRotation: p.rotate, color: "#111", font: bold(p.font), padding: p.xPad },
          afterFit: (s: any) => { s.height = p.bottomH; s.paddingLeft = 0; s.paddingRight = 0; },
        },
        y: { type: "linear", stacked: true, min: 0, max: n, reverse: true, display: false },
        y2: {
          type: "category", labels: p.rows, position: "right", offset: !!p.grid,
          grid: { display: false, drawTicks: false }, border: { display: false },
          ticks: { autoSkip: false, color: "#111", font: bold(p.font), padding: p.yPad },
          afterFit: (s: any) => { s.width = p.rightW; s.paddingTop = 0; s.paddingBottom = 0; },
        },
      },
    },
    plugins: [dendroPlugin(p.rowTree, p.colTree, p.grid ? 1.1 : 1.4), starPlugin(p.stars || [])],
  });
  const w = p.x1 - p.x0, h = p.y1 - p.y0;
  return <Plot left={p.x0 - p.padL} top={p.y0 - p.padT} width={p.padL + w + p.rightW} height={p.padT + h + p.bottomH} make={make} />;
}

// ---------- colour bar, one floating bar with a gradient fill ----------
function ColorBar(p: any) {
  const titleH = p.title ? 12 : 0;
  const padT = p.title ? 0 : 8;
  const padB = 8;
  const w = p.x1 - p.x0, h = p.y1 - p.y0;
  const per = (p.tickB[1] - p.tickA[1]) / (p.tickA[0] - p.tickB[0]);
  const yMax = p.tickA[0] + (p.tickA[1] - p.y0) / per;
  const yMin = p.tickB[0] - (p.y1 - p.tickB[1]) / per;
  const stops = p.stops || paletteStops;
  const make = () => ({
    type: "bar",
    data: {
      labels: [""],
      datasets: [{
        data: [[yMin, yMax]],
        barPercentage: 1, categoryPercentage: 1, borderWidth: 0,
        backgroundColor: (ctx: any) => {
          const a = ctx.chart.chartArea;
          if (!a) return "#fff";
          const g = ctx.chart.ctx.createLinearGradient(0, a.bottom, 0, a.top);
          stops.forEach(([v, c]: [number, string]) => g.addColorStop((v + 10) / 20, c));
          return g;
        },
      }],
    },
    options: {
      ...baseOptions,
      layout: { padding: { top: padT, bottom: padB, left: 0, right: 0 }, autoPadding: false },
      plugins: {
        legend: { display: false }, tooltip: { enabled: false },
        title: { display: !!p.title, text: p.title, align: "start", color: "#111", font: { ...bold(p.font), lineHeight: 1.2 }, padding: { top: 0, bottom: 1.2 } },
      },
      scales: {
        x: { type: "category", display: false, offset: true },
        y: {
          type: "linear", position: "right", min: yMin, max: yMax,
          grid: { display: false, drawTicks: false }, border: { display: false },
          ticks: {
            stepSize: p.step, includeBounds: false, autoSkip: false, color: "#111", font: bold(p.font), padding: p.pad,
            callback: (v: number) => {
              const r = Math.round(v * 10) / 10;
              return p.fixed ? r.toFixed(1) : String(r).replace("-", p.minus || "-");
            },
          },
          afterFit: (s: any) => { s.width = p.rightW; s.paddingTop = 0; s.paddingBottom = 0; },
        },
      },
    },
  });
  return <Plot left={p.x0} top={p.y0 - titleH - padT} width={w + p.rightW} height={h + titleH + padT + padB} make={make} />;
}

// ---------- network, a scatter chart with one line dataset per edge ----------
function Network(p: any) {
  const make = () => {
    const all = [...p.genes, ...p.metabolites];
    const at: any = {};
    all.forEach((n: any) => { at[n[0]] = { x: n[1], y: n[2] }; });
    const edges: any[] = [];
    p.edges.forEach(([m, gs]: [string, string[]]) => gs.forEach((g) => edges.push({
      data: [at[m], at[g]], showLine: true, borderColor: EDGE, borderWidth: 1.6, pointRadius: 0, clip: false,
    })));
    const pts = (list: any[]) => list.map((n) => ({ x: n[1], y: n[2] }));
    const nodes = (list: any[], color: string, r: number) => ({ data: pts(list), backgroundColor: color, pointRadius: r, pointBorderWidth: 0, borderWidth: 0, showLine: false, clip: false });
    const lab = {
      id: "nodeLabels",
      afterDatasetsDraw(chart: any) {
        const { ctx, scales } = chart;
        ctx.save();
        ctx.fillStyle = "#111";
        ctx.font = `bold ${p.font}px ${FONT}`;
        ctx.textBaseline = "middle";
        ctx.textAlign = "center";
        all.forEach((n: any) => ctx.fillText(n[0], scales.x.getPixelForValue(n[3]), scales.y.getPixelForValue(n[4])));
        ctx.textAlign = "left";
        ctx.font = `bold ${p.font + 0.2}px ${FONT}`;
        p.legend.forEach((n: any) => ctx.fillText(n[0], scales.x.getPixelForValue(n[3]), scales.y.getPixelForValue(n[4])));
        ctx.restore();
      },
    };
    const frame = {
      id: "frame",
      beforeDatasetsDraw(chart: any) {
        const { ctx, scales } = chart;
        const [l, t, r, b] = p.frame;
        ctx.save();
        ctx.strokeStyle = "#444";
        ctx.lineWidth = 2;
        ctx.setLineDash([15, 10]);
        ctx.strokeRect(scales.x.getPixelForValue(l), scales.y.getPixelForValue(t), scales.x.getPixelForValue(r) - scales.x.getPixelForValue(l), scales.y.getPixelForValue(b) - scales.y.getPixelForValue(t));
        ctx.restore();
      },
    };
    return {
      type: "scatter",
      data: {
        datasets: [
          nodes([p.legend[0]], GENE, 12.5), nodes([p.legend[1]], META, 12.5),
          nodes(p.genes, GENE, 12.5), nodes(p.metabolites, META, 12.5),
          ...edges,
        ],
      },
      options: {
        ...baseOptions,
        layout: { padding: 0, autoPadding: false },
        plugins: { legend: { display: false }, tooltip: { enabled: false } },
        scales: {
          x: { type: "linear", min: 0, max: p.xMax, display: false },
          y: { type: "linear", min: 0, max: p.yMax, reverse: true, display: false },
        },
      },
      plugins: [frame, lab],
    };
  };
  return <Plot left={p.left} top={p.top} width={p.width} height={p.height} make={make} />;
}

const letter = (t: string, left: number, top: number) => (
  <span key={t} style={{ position: "absolute", left, top, font: `bold 25px/25px ${FONT}`, color: "#111" }}>{t}</span>
);

export default function App() {
  return (
    <div style={{ position: "absolute", left: 0, top: 0, width: 1325, height: 1636, overflow: "hidden", background: "#fff" }}>
      {letter("A", 18, 2)}{letter("B", 703, 245)}{letter("C", 43, 512)}{letter("D", 549, 512)}{letter("E", 43, 1034)}{letter("F", 549, 1035)}

      <ProfilePlot title={["Cluster 1", "contains 6 Feature"]} left={7} right={279} plotLeft={49.5} plotRight={224} plotTop={48} plotBottom={193} hc={83} hcc={192} tickA={[1, 59]} tickB={[-1, 182]} tickPad={5} yellow={cluster1Yellow} colored={cluster1Colored} />
      <ProfilePlot title={["Cluster 5", "contains 17 Feature"]} left={410} right={686} plotLeft={452} plotRight={627} plotTop={48} plotBottom={193} hc={485} hcc={593} tickA={[1, 57]} tickB={[-1, 179]} tickPad={7} yellow={cluster5Yellow} colored={cluster5Colored} />
      <ProfilePlot title={["Cluster 7", "contains 6 Feature"]} left={855} right={1127} plotLeft={896} plotRight={1072} plotTop={48} plotBottom={193} hc={929} hcc={1039} tickA={[1, 62]} tickB={[-0.5, 163]} tickPad={4} yellow={cluster7Yellow} colored={cluster7Colored} />
      <ProfilePlot title={["Cluster 10", "contains 21 Feature"]} left={43} right={323} plotLeft={85} plotRight={262} plotTop={311} plotBottom={457} hc={118} hcc={228} tickA={[0.5, 337]} tickB={[-1, 437]} tickPad={4} yellow={cluster10Yellow} colored={cluster10Colored} />
      <ProfilePlot title={["Cluster 9", "contains 26 Feature"]} left={700} right={976} plotLeft={742} plotRight={917} plotTop={311} plotBottom={457} hc={775} hcc={888} tickA={[1, 325]} tickB={[-1, 447]} tickPad={5} yellow={cluster9Yellow} colored={cluster9Colored} />

      <HeatPlot x0={217} x1={294} y0={69} y1={135} padL={20} padT={8} rightW={130} bottomH={36} cols={heatCols} rows={rows1} values={heat1} rowTree={tree1} rotate={90} font={11.4} xPad={3} yPad={3} />
      <HeatPlot x0={636} x1={713} y0={17} y1={202} padL={22} padT={8} rightW={155} bottomH={36} cols={heatCols} rows={rows5} values={heat5} rowTree={tree5} rotate={90} font={11.7} xPad={3} yPad={3} />
      <HeatPlot x0={1060} x1={1137} y0={82} y1={147} padL={22} padT={8} rightW={185} bottomH={8} cols={["", "", ""]} rows={rows7} values={heat7} rowTree={tree7} rotate={90} font={11.4} xPad={3} yPad={2} />
      <HeatPlot x0={317} x1={393} y0={248} y1={475} padL={22} padT={8} rightW={290} bottomH={36} cols={heatCols} rows={rows10} values={heat10} rowTree={tree10} rotate={90} font={11.4} xPad={3} yPad={1} />
      <HeatPlot x0={981} x1={1058} y0={228} y1={510} padL={22} padT={8} rightW={260} bottomH={36} cols={heatCols} rows={rows9} values={heat9} rowTree={tree9} rotate={90} font={11.4} xPad={3} yPad={2} />
      <ColorBar x0={1216} x1={1220} y0={347} y1={403} tickA={[1, 348]} tickB={[-1, 396]} step={0.5} font={12} pad={2} rightW={40} minus="−" />

      <HeatPlot x0={81} x1={430} y0={561} y1={910} padL={81} padT={40} rightW={90} bottomH={160} cols={colsC} rows={rowsC} values={valuesC} stars={starsC} rowTree={rowTreeC} colTree={colTreeC} rotate={45} font={13} xPad={2} yPad={4} grid />
      <ColorBar x0={512} x1={524} y0={561} y1={735} tickA={[0.6, 574]} tickB={[-0.2, 713]} step={0.2} font={11} pad={5} rightW={30} />

      <HeatPlot x0={82} x1={431} y0={1109} y1={1458} padL={82} padT={40} rightW={90} bottomH={178} cols={colsE} rows={rowsE} values={valuesE} stars={starsE} rowTree={rowTreeE} colTree={colTreeE} rotate={45} font={13} xPad={2} yPad={4} grid />
      <ColorBar x0={503} x1={515} y0={1109} y1={1283} tickA={[0.8, 1111]} tickB={[-0.6, 1282]} step={0.2} font={11} pad={5} rightW={30} />

      <ColorBar x0={751} x1={756} y0={399} y1={446} tickA={[0.8, 402]} tickB={[0.2, 445]} step={0.1} font={9} pad={3} rightW={50} title="Membership" stops={membershipStops} fixed />

      <Network left={530} top={530} width={795} height={490} xMax={1567} yMax={1470} font={14.2} genes={genesD} metabolites={metabolitesD} edges={edgesD} legend={legendD} frame={[38, 65, 1556, 1440]} />
      <Network left={530} top={1050} width={795} height={380} xMax={1567} yMax={1140} font={14.2} genes={genesF} metabolites={metabolitesF} edges={edgesF} legend={legendF} frame={[38, 67, 1556, 1133]} />
    </div>
  );
}
